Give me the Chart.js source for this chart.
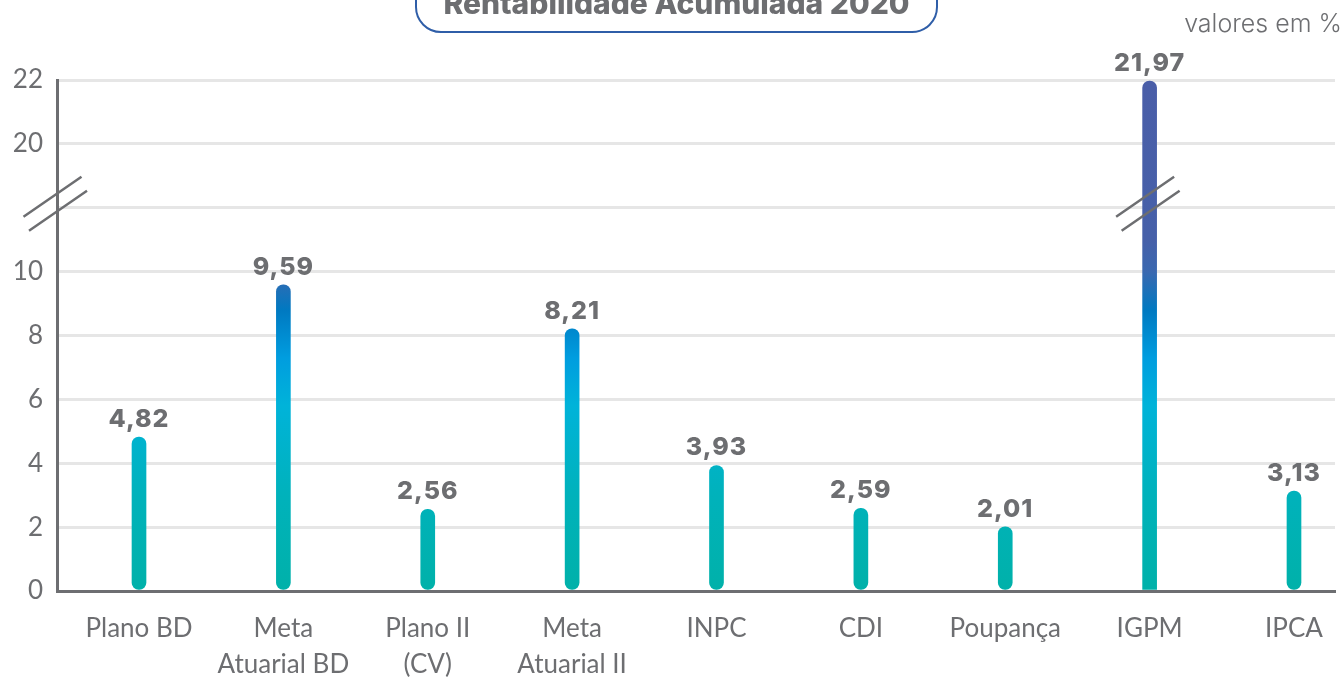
<!DOCTYPE html>
<html>
<head>
<meta charset="utf-8">
<script src="https://cdn.jsdelivr.net/npm/chart.js@4.4.1/dist/chart.umd.min.js"></script>
<style>
html,body{margin:0;padding:0;background:#fff;overflow:hidden}
#wrap{position:relative;width:1344px;height:679px;overflow:hidden}
#c{position:absolute;left:0;top:0}
#titlebox{position:absolute;left:415px;top:-40px;width:523px;height:73px;border:2px solid #2f5ea8;border-radius:26px;box-sizing:border-box}
#titletext{position:absolute;left:415px;width:523px;top:-12px;text-align:center;font:800 30px/30px Inter,sans-serif;color:#6d6e71;white-space:nowrap}
#unit{position:absolute;right:2px;top:11px;font:300 25px/25px Inter,sans-serif;color:#6d6e71;white-space:nowrap}
</style>
</head>
<body>
<div id="wrap">
<canvas id="c" width="1344" height="679"></canvas>
<div id="titlebox"></div>
<div id="titletext">Rentabilidade Acumulada 2020</div>
<div id="unit">valores em %</div>
</div>
<script>
const categories = [['Plano BD'], ['Meta','Atuarial BD'], ['Plano II','(CV)'], ['Meta','Atuarial II'], ['INPC'], ['CDI'], ['Poupança'], ['IGPM'], ['IPCA']];
const values = [4.82, 9.59, 2.56, 8.21, 3.93, 2.59, 2.01, 21.97, 3.13];
const yTickValues = [0, 2, 4, 6, 8, 10, 12, 14, 16];
const yTickLabels = ['0', '2', '4', '6', '8', '10', '', '20', '22'];
const breakShift = 6;      // values above the axis break are drawn 6 units lower
const breakAt = 12;        // axis position of the break marks
const toAxis = v => v > breakAt ? v - breakShift : v;
const fmt = v => v.toFixed(2).replace('.', ',');

const GREY = '#6d6e71';
const gradientStops = [[0,'#00b1a9'],[3,'#00b2bb'],[5.8,'#00b3d9'],[7.3,'#009ddf'],[8.8,'#0079c1'],[10,'#3a68b0'],[11,'#4660a9'],[16,'#4a5ea8']];

function barGradient(c) {
  const ch = c.chart;
  if (!ch.chartArea) return '#00b1a9';
  const ys = ch.scales.y;
  const y0 = ys.getPixelForValue(ys.min), y1 = ys.getPixelForValue(ys.max);
  const g = ch.ctx.createLinearGradient(0, y0, 0, y1);
  gradientStops.forEach(([v, col]) => g.addColorStop((v - ys.min) / (ys.max - ys.min), col));
  return g;
}

function drawBreak(ctx, cx, cy) {
  ctx.beginPath();
  [[-4.5, -8], [1, 6]].forEach(([ox, oy]) => {
    ctx.moveTo(cx + ox - 29, cy + oy + 20);
    ctx.lineTo(cx + ox + 29, cy + oy - 20);
  });
  ctx.stroke();
}

const labelsPlugin = {
  id: 'valueLabels',
  afterDatasetsDraw(chart) {
    const ctx = chart.ctx;
    const meta = chart.getDatasetMeta(0);
    ctx.save();
    ctx.font = '800 25px Inter, sans-serif';
    ctx.fillStyle = GREY;
    ctx.textAlign = 'center';
    ctx.textBaseline = 'alphabetic';
    try { ctx.letterSpacing = '1px'; } catch (e) {}
    meta.data.forEach((el, i) => ctx.fillText(fmt(values[i]), el.x, el.y - 10));
    ctx.restore();
  }
};

const breakPlugin = {
  id: 'axisBreak',
  afterDraw(chart) {
    const ctx = chart.ctx;
    const ys = chart.scales.y, xs = chart.scales.x;
    const cy = ys.getPixelForValue(breakAt) - 3;
    ctx.save();
    ctx.strokeStyle = GREY;
    ctx.lineWidth = 2.5;
    drawBreak(ctx, chart.chartArea.left, cy);
    values.forEach((v, i) => { if (v > breakAt) drawBreak(ctx, xs.getPixelForValue(i), cy); });
    ctx.restore();
  }
};

new Chart(document.getElementById('c'), {
  type: 'bar',
  data: {
    datasets: [{
      data: values.map((v, i) => ({ x: i, y: toAxis(v) })),
      backgroundColor: barGradient,
      barThickness: 14,
      borderSkipped: false,
      borderRadius: c => values[c.dataIndex] > breakAt ? { topLeft: 7, topRight: 7, bottomLeft: 0, bottomRight: 0 } : 7
    }]
  },
  options: {
    responsive: false,
    animation: false,
    layout: { padding: { top: 80, right: 9, left: 0, bottom: 0 } },
    plugins: { legend: { display: false }, tooltip: { enabled: false }, title: { display: false } },
    scales: {
      x: {
        type: 'linear',
        offset: false,
        min: -0.568, max: 8.284,
        afterBuildTicks: s => { s.ticks = categories.map((_, i) => ({ value: i })); },
        afterFit: s => { s.height = 88; },
        ticks: {
          callback: v => categories[v],
          autoSkip: false, maxRotation: 0, minRotation: 0,
          font: { family: 'Lato', size: 26, lineHeight: 1.38 },
          color: GREY, padding: 20
        },
        grid: { display: false, drawTicks: false, offset: false },
        border: { color: GREY, width: 3 }
      },
      y: {
        min: 0, max: 16,
        afterBuildTicks: s => { s.ticks = yTickValues.map(v => ({ value: v })); },
        afterFit: s => { s.width = 57; },
        ticks: {
          callback: v => yTickLabels[yTickValues.indexOf(v)],
          font: { family: 'Lato', size: 26 },
          color: GREY, padding: 14
        },
        grid: { color: '#e6e6e6', lineWidth: 3, drawTicks: false },
        border: { color: GREY, width: 3 }
      }
    }
  },
  plugins: [labelsPlugin, breakPlugin]
});
</script>
</body>
</html>
